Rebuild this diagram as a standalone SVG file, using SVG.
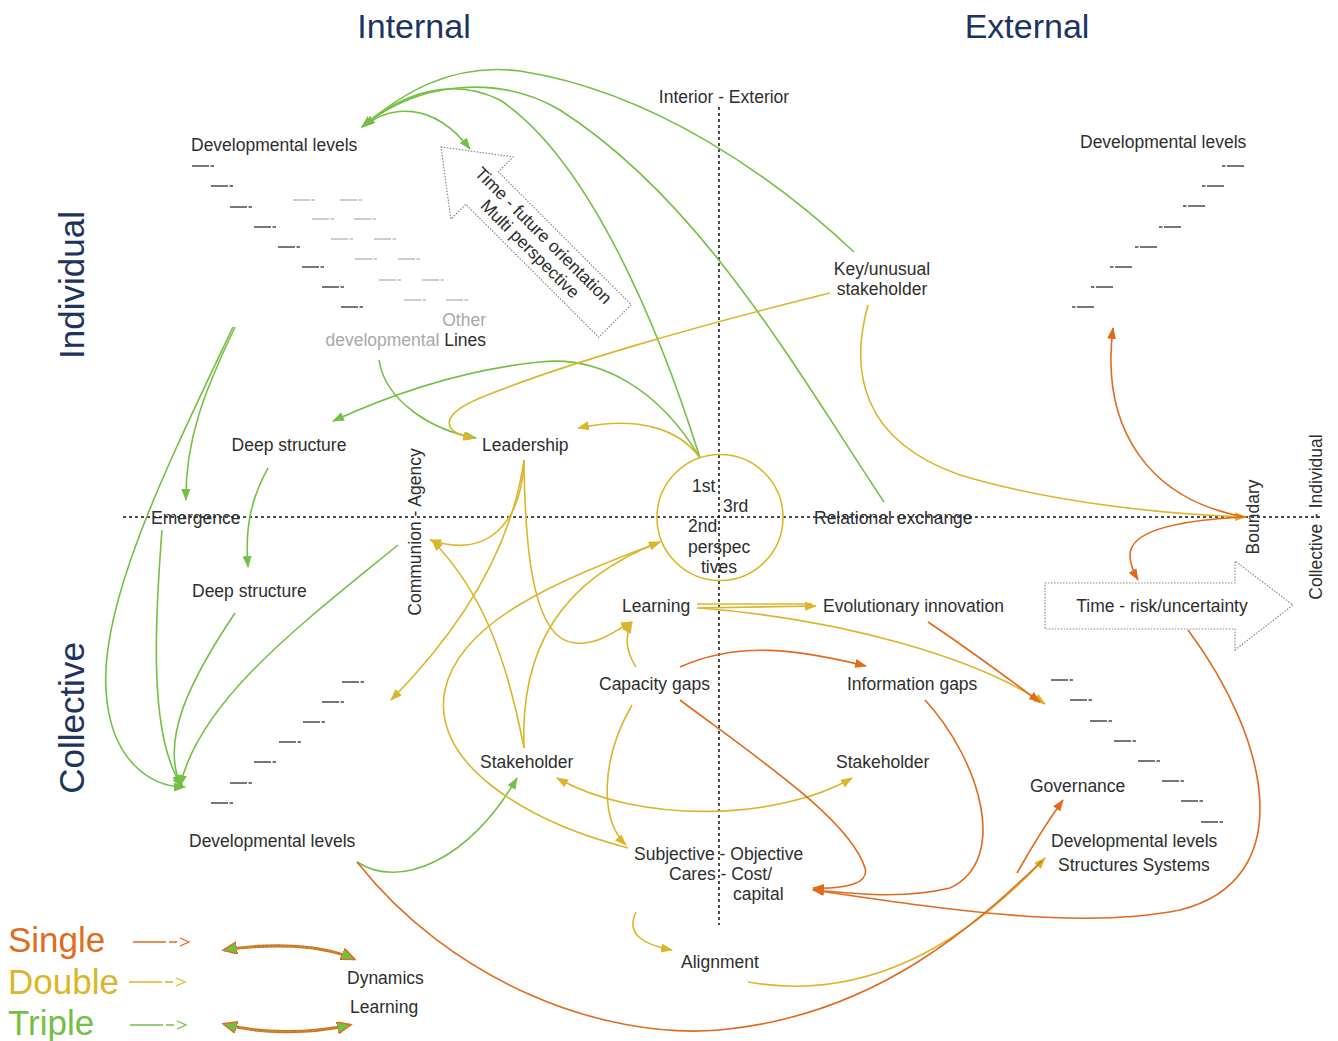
<svg xmlns="http://www.w3.org/2000/svg" width="1338" height="1041" viewBox="0 0 1338 1041">
  <style>
    .t { font-family: "Liberation Sans", Arial, sans-serif; font-size: 17.5px; fill: #2e2e2e; }
    .gray { fill: #a9a9a9; }
    .h { font-family: "Liberation Sans", Arial, sans-serif; font-size: 34px; fill: #1d3460; }
    .hv { font-family: "Liberation Sans", Arial, sans-serif; font-size: 35px; fill: #1d3460; }
    .leg { font-family: "Liberation Sans", Arial, sans-serif; font-size: 35px; }
    .axis { stroke: #111; stroke-width: 1.5; stroke-dasharray: 3 3; fill: none; }
    .g { stroke: #74c044; stroke-width: 1.6; fill: none; }
    .y { stroke: #dbb62b; stroke-width: 1.6; fill: none; }
    .o { stroke: #e26a1d; stroke-width: 1.6; fill: none; }
    .step { stroke: #4a4a4a; stroke-width: 1.4; stroke-dasharray: 17 1.5 3.5; fill: none; }
    .step2 { stroke: #bdbdbd; stroke-width: 1.3; stroke-dasharray: 17 1.5 3.5; fill: none; }
    .dots { stroke: #8a8a8a; stroke-width: 1.2; stroke-dasharray: 1.5 1.5; fill: #fff; }
  </style>
  <defs>
    <marker id="ag" markerUnits="userSpaceOnUse" markerWidth="13" markerHeight="10" refX="11" refY="4.5" orient="auto-start-reverse">
      <path d="M0,0 L12,4.5 L0,9 z" fill="#74c044"/>
    </marker>
    <marker id="ay" markerUnits="userSpaceOnUse" markerWidth="13" markerHeight="10" refX="11" refY="4.5" orient="auto-start-reverse">
      <path d="M0,0 L12,4.5 L0,9 z" fill="#dbb62b"/>
    </marker>
    <marker id="ao" markerUnits="userSpaceOnUse" markerWidth="13" markerHeight="10" refX="11" refY="4.5" orient="auto-start-reverse">
      <path d="M0,0 L12,4.5 L0,9 z" fill="#e26a1d"/>
    </marker>
    <marker id="am" markerUnits="userSpaceOnUse" markerWidth="16" markerHeight="13" refX="13" refY="6" orient="auto-start-reverse">
      <path d="M0,0 L14,6 L0,12 z" fill="#74c044" stroke="#e26a1d" stroke-width="1.5"/>
    </marker>
  </defs>

  <!-- headings -->
  <text class="h" x="414" y="38" text-anchor="middle">Internal</text>
  <text class="h" x="1027" y="38" text-anchor="middle">External</text>
  <text class="hv" transform="translate(84,285) rotate(-90)" text-anchor="middle">Individual</text>
  <text class="hv" transform="translate(84,718) rotate(-90)" text-anchor="middle">Collective</text>

  <!-- axes -->
  <g id="axes">
    <line class="axis" x1="123" y1="517" x2="1322" y2="517"/>
    <line class="axis" x1="719" y1="107" x2="719" y2="925"/>
  </g>

  <!-- axis labels -->
  <g id="axis-labels">
    <text class="t" x="724" y="103" text-anchor="middle">Interior - Exterior</text>
    <text class="t" transform="translate(421,532) rotate(-90)" text-anchor="middle">Communion - Agency</text>
    <text class="t" transform="translate(1259,517) rotate(-90)" text-anchor="middle">Boundary</text>
    <text class="t" transform="translate(1322,517) rotate(-90)" text-anchor="middle">Collective - Individual</text>
  </g>

  <!-- big dotted arrows -->
  <g id="time-future">
    <g transform="translate(441,147) rotate(45)">
      <polygon class="dots" points="0,0 58,-44 58,-23 246,-23 246,23 58,23 58,44"/>
      <text class="t" x="135" y="-4" text-anchor="middle">Time - future orientation</text>
      <text class="t" x="135" y="15" text-anchor="middle">Multi perspective</text>
    </g>
  </g>
  <g id="time-risk">
    <polygon class="dots" points="1045,583 1235,583 1235,561 1293,605 1235,650 1235,629 1045,629"/>
    <text class="t" x="1162" y="612" text-anchor="middle">Time - risk/uncertainty</text>
  </g>

  <!-- upper-left developmental levels -->
  <g id="dev-levels-ul">
    <text class="t" x="191" y="151">Developmental levels</text>
    <path class="step" d="M192,166h22 M211,186h22 M230,207h22 M254,227h22 M278,247h22 M302,267h22 M322,287h22 M341,307h22"/>
    <path class="step2" d="M293,200h22 M340,200h22 M312,219h22 M354,219h22 M331,239h22 M374,239h22 M355,259h22 M398,259h22 M379,280h22 M422,280h22 M404,300h22 M446,300h22"/>
  </g>
  <g id="other-lines">
    <text class="t gray" x="486" y="326" text-anchor="end">Other</text>
    <text class="t" x="486" y="346" text-anchor="end"><tspan class="gray">developmental </tspan>Lines</text>
  </g>

  <!-- upper-right developmental levels -->
  <g id="dev-levels-ur">
    <text class="t" x="1080" y="148">Developmental levels</text>
    <path class="step" d="M1244,166h-22 M1224,186h-22 M1205,206h-22 M1181,227h-22 M1157,247h-22 M1132,267h-22 M1113,287h-22 M1094,307h-22"/>
  </g>

  <!-- lower-left developmental levels -->
  <g id="dev-levels-ll">
    <path class="step" d="M342,682h22 M322,702h22 M303,722h22 M279,742h22 M254,762h22 M230,783h22 M211,803h22"/>
    <text class="t" x="189" y="847">Developmental levels</text>
  </g>

  <!-- lower-right developmental levels -->
  <g id="dev-levels-lr">
    <path class="step" d="M1051,680h22 M1070,700h22 M1090,721h22 M1114,741h22 M1138,761h22 M1162,781h22 M1181,801h22 M1201,822h22"/>
    <text class="t" x="1030" y="792">Governance</text>
    <text class="t" x="1051" y="847">Developmental levels</text>
    <text class="t" x="1058" y="871">Structures Systems</text>
  </g>

  <!-- perspectives circle -->
  <g id="perspectives">
    <circle cx="720" cy="517.5" r="63" fill="none" stroke="#dbb62b" stroke-width="1.6"/>
    <text class="t" x="692" y="492">1st</text>
    <text class="t" x="723" y="512">3rd</text>
    <text class="t" x="688" y="532">2nd</text>
    <text class="t" x="688" y="553">perspec</text>
    <text class="t" x="701" y="573">tives</text>
  </g>

  <!-- nodes -->
  <g id="key-stakeholder"><text class="t" x="882" y="275" text-anchor="middle">Key/unusual</text><text class="t" x="882" y="295" text-anchor="middle">stakeholder</text></g>
  <g id="deep-structure-upper"><text class="t" x="289" y="451" text-anchor="middle">Deep structure</text></g>
  <g id="leadership"><text class="t" x="482" y="451">Leadership</text></g>
  <g id="emergence"><text class="t" x="151" y="524">Emergence</text></g>
  <g id="relational-exchange"><text class="t" x="814" y="524">Relational exchange</text></g>
  <g id="deep-structure-lower"><text class="t" x="192" y="597">Deep structure</text></g>
  <g id="learning"><text class="t" x="622" y="612">Learning</text></g>
  <g id="evolutionary-innovation"><text class="t" x="823" y="612">Evolutionary innovation</text></g>
  <g id="capacity-gaps"><text class="t" x="599" y="690">Capacity gaps</text></g>
  <g id="information-gaps"><text class="t" x="847" y="690">Information gaps</text></g>
  <g id="stakeholder-left"><text class="t" x="480" y="768">Stakeholder</text></g>
  <g id="stakeholder-right"><text class="t" x="836" y="768">Stakeholder</text></g>
  <g id="subjective-objective">
    <text class="t" x="634" y="860">Subjective - Objective</text>
    <text class="t" x="669" y="880">Cares - Cost/</text>
    <text class="t" x="733" y="900">capital</text>
  </g>
  <g id="alignment"><text class="t" x="681" y="968">Alignment</text></g>

  <!-- connectors -->
  <g id="connectors">
    <!-- triple loop (green) -->
    <path class="g" marker-end="url(#ag)" d="M854,252 C775,178 655,92 520,71 C450,62 400,95 362,127"/>
    <path class="g" marker-end="url(#ag)" d="M884,502 C790,360 700,200 560,110 C500,75 420,80 362,127"/>
    <path class="g" marker-end="url(#ag)" d="M700,458 C660,330 590,160 500,100 C450,75 400,95 362,127"/>
    <path class="g" marker-start="url(#ag)" marker-end="url(#ag)" d="M364,126 C390,106 432,100 470,149"/>
    <path class="g" marker-end="url(#ag)" d="M700,458 C660,390 600,355 540,362 C460,370 390,395 333,421"/>
    <path class="g" marker-end="url(#ag)" d="M379,360 C385,400 430,430 476,438"/>
    <path class="g" marker-end="url(#ag)" d="M235,327 C205,390 185,440 186,500"/>
    <path class="g" marker-end="url(#ag)" d="M233,327 C170,460 100,600 106,690 C110,760 150,787 185,787"/>
    <path class="g" marker-end="url(#ag)" d="M162,530 C155,620 148,740 183,787"/>
    <path class="g" marker-end="url(#ag)" d="M235,613 C190,680 160,740 181,786"/>
    <path class="g" marker-end="url(#ag)" d="M398,545 C300,625 200,700 180,786"/>
    <path class="g" marker-end="url(#ag)" d="M268,468 C250,500 245,530 248,567"/>
    <path class="g" marker-end="url(#ag)" d="M357,862 C400,890 470,860 517,778"/>

    <!-- double loop (yellow) -->
    <path class="y" marker-end="url(#ay)" d="M830,293 C700,325 560,365 480,398 C440,415 440,432 474,438"/>
    <path class="y" marker-end="url(#ay)" d="M868,305 C850,370 860,440 960,475 C1060,505 1180,515 1246,517"/>
    <path class="y" marker-end="url(#ay)" d="M700,458 C680,430 640,415 578,428"/>
    <path class="y" marker-end="url(#ay)" d="M524,460 C522,520 490,560 430,540"/>
    <path class="y" marker-end="url(#ay)" d="M524,460 C510,560 450,640 391,700"/>
    <path class="y" marker-end="url(#ay)" d="M524,460 C525,560 535,640 575,643 C600,645 615,630 632,622"/>
    <path class="y" marker-end="url(#ay)" d="M524,748 C505,650 480,590 432,540"/>
    <path class="y" marker-end="url(#ay)" d="M524,748 C520,650 560,580 660,542"/>
    <path class="y" marker-end="url(#ay)" d="M628,848 C520,820 430,760 445,690 C460,620 560,580 660,542"/>
    <path class="y" marker-end="url(#ay)" d="M636,667 C625,650 625,635 632,622"/>
    <path class="y" marker-end="url(#ay)" d="M632,705 C600,760 600,820 626,845"/>
    <path class="y" d="M697,604 L812,604"/>
    <path class="y" marker-end="url(#ay)" d="M697,608 L816,606"/>
    <path class="y" marker-end="url(#ay)" d="M700,608 C850,620 980,660 1045,704"/>
    <path class="y" marker-start="url(#ay)" marker-end="url(#ay)" d="M557,778 C640,825 780,820 852,778"/>
    <path class="y" marker-end="url(#ay)" d="M636,912 C625,935 645,945 672,950"/>
    <path class="y" marker-end="url(#ay)" d="M748,982 C850,1000 950,960 1045,858"/>

    <!-- single loop (orange) -->
    <path class="o" marker-end="url(#ao)" d="M1245,517 C1150,500 1100,430 1113,328"/>
    <path class="o" marker-end="url(#ao)" d="M1245,517 C1180,520 1130,530 1130,555 C1130,565 1134,573 1138,580"/>
    <path class="o" marker-end="url(#ao)" d="M1188,630 C1270,740 1300,880 1180,910 C1080,930 950,910 813,890"/>
    <path class="o" marker-end="url(#ao)" d="M925,700 C980,760 1010,860 950,888 C900,900 850,893 813,890"/>
    <path class="o" marker-end="url(#ao)" d="M680,700 C760,760 850,820 865,868 C870,885 840,889 813,888"/>
    <path class="o" marker-end="url(#ao)" d="M680,667 C740,640 800,650 866,666"/>
    <path class="o" marker-end="url(#ao)" d="M928,622 C970,650 1010,680 1040,702"/>
    <path class="o" marker-end="url(#ao)" d="M1017,873 C1030,850 1045,825 1063,800"/>
    <path class="o" stroke-width="1" d="M357,862 C450,980 600,1040 720,1030 C880,1015 980,920 1042,861"/>
  </g>

  <!-- legend -->
  <g id="legend">
    <text class="leg" x="8" y="952" fill="#e26a1d">Single</text>
    <text class="leg" x="8" y="994" fill="#dbb62b">Double</text>
    <text class="leg" x="8" y="1035" fill="#74c044">Triple</text>
    <path d="M133,942 H166 M169,942 H177 M180,938 L189,942 L180,946" stroke="#e26a1d" stroke-width="1.3" fill="none"/>
    <path d="M129,982 H162 M165,982 H173 M176,978 L185,982 L176,986" stroke="#dbb62b" stroke-width="1.3" fill="none"/>
    <path d="M130,1025 H163 M166,1025 H174 M177,1021 L186,1025 L177,1029" stroke="#74c044" stroke-width="1.3" fill="none"/>
    <path d="M224,950 C270,943 320,944 354,959" stroke="#e26a1d" stroke-width="3.2" fill="none" marker-start="url(#am)" marker-end="url(#am)"/>
    <path d="M224,950 C270,943 320,944 354,959" stroke="#74c044" stroke-width="1.2" stroke-dasharray="2 2" fill="none"/>
    <path d="M224,1024 C260,1034 310,1034 350,1025" stroke="#e26a1d" stroke-width="3.2" fill="none" marker-start="url(#am)" marker-end="url(#am)"/>
    <path d="M224,1024 C260,1034 310,1034 350,1025" stroke="#74c044" stroke-width="1.2" stroke-dasharray="2 2" fill="none"/>
    <text class="t" x="347" y="984">Dynamics</text>
    <text class="t" x="350" y="1013">Learning</text>
  </g>
</svg>
